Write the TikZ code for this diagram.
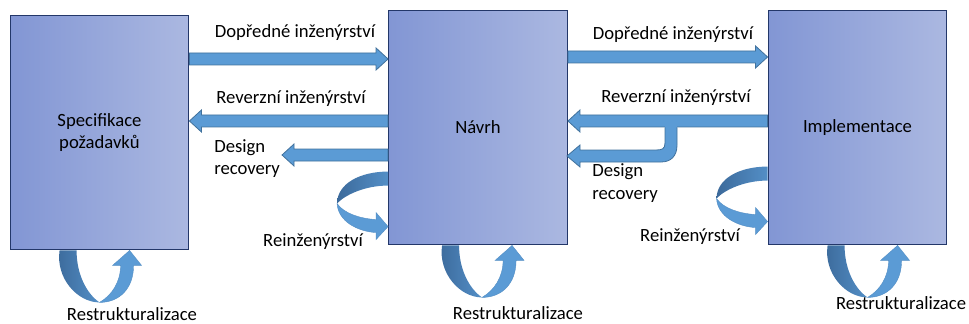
\documentclass[tikz,border=0pt]{standalone}
\usepackage{fontspec}
\setmainfont{Carlito}
\usepackage{tikz}
\usetikzlibrary{calc, positioning}
\definecolor{boxleft}{RGB}{130,150,212}
\definecolor{boxright}{RGB}{171,184,225}
\definecolor{boxedge}{RGB}{35,55,105}
\definecolor{arrowfill}{RGB}{91,155,213}
\definecolor{arrowedge}{RGB}{65,113,156}
\definecolor{banddark}{RGB}{60,106,155}
\tikzstyle{phase} = [rectangle, minimum width=134pt, minimum height=176pt, align=center, draw=boxedge, line width=0.9pt, left color=boxleft, right color=boxright, font=\fontsize{14}{17}\selectfont]
\tikzstyle{lbl} = [inner sep=0pt, font=\fontsize{14}{17}\selectfont]
\tikzstyle{blockr} = [fill=arrowfill, draw=arrowedge, line width=0.6pt,
  to path={($(\tikztostart)+(0,-6)$) -- ($(\tikztotarget)+(-12,-6)$) -- ($(\tikztotarget)+(-12,-11)$) -- (\tikztotarget) -- ($(\tikztotarget)+(-12,11)$) -- ($(\tikztotarget)+(-12,6)$) -- ($(\tikztostart)+(0,6)$) -- cycle}]
\tikzstyle{blockl} = [fill=arrowfill, draw=arrowedge, line width=0.6pt,
  to path={($(\tikztostart)+(0,-6)$) -- ($(\tikztotarget)+(12,-6)$) -- ($(\tikztotarget)+(12,-11)$) -- (\tikztotarget) -- ($(\tikztotarget)+(12,11)$) -- ($(\tikztotarget)+(12,6)$) -- ($(\tikztostart)+(0,6)$) -- cycle}]
\tikzstyle{darkband} = [left color=banddark, right color=arrowfill!75!banddark]
\tikzstyle{lightband} = [fill=arrowfill, draw=arrowfill!70!arrowedge, line width=0.3pt]
\tikzset{
  pics/restr/.style={code={
    \path[darkband] (0,0) .. controls (-4,28) and (18,52) .. (40,52) .. controls (28,44) and (17,25) .. (17,0) -- cycle;
    \path[lightband] (40,52) .. controls (60,52) and (74,38) .. (74,15) -- (82,15) -- (70,0) -- (53,15) -- (61,15) .. controls (61,32) and (52,45) .. (40,52) -- cycle;
  }},
  pics/reinz/.style={code={
    \path[darkband] (0,0) .. controls (-28,0) and (-51,12) .. (-51,32) .. controls (-44,24) and (-24,14) .. (0,14) -- cycle;
    \path[lightband] (-51,32) .. controls (-50,50) and (-30,60) .. (-12,61) -- (-12,68) -- (0,55) -- (-12,41) -- (-12,48) .. controls (-28,47) and (-44,42) .. (-51,32) -- cycle;
  }}
}

\begin{document}
\begin{tikzpicture}[x=0.75pt, y=-0.75pt]
    \useasboundingbox (0,0) rectangle (969,324);

    \node (spec) [phase] at (99.5,132.5) {Specifikace\\požadavků};
    \node (navrh) [phase] at (478,127.5) {Návrh};
    \node (impl) [phase] at (857.5,127.5) {Implementace};

    \coordinate (rowA) at (0,59);
    \coordinate (rowB) at (0,121);
    \coordinate (rowC) at (0,155);
    \coordinate (rowD) at (0,57);

    % left side
    \draw [blockr] (spec.east |- rowA) to (navrh.west |- rowA);
    \draw [blockl] (navrh.west |- rowB) to (spec.east |- rowB);
    \coordinate (drend) at (282,155);
    \draw [blockl] (navrh.west |- rowC) to (drend);
    \pic at ($(navrh.north west)+(0,162)$) {reinz};

    % right side
    \draw [blockr] (navrh.east |- rowD) to (impl.west |- rowD);
    \draw [blockl] (impl.west |- rowB) to (navrh.east |- rowB);
    % branch off the reverse arrow
    \coordinate (split) at (671,121);
    \fill [arrowfill] (665,121) -- (665,143) .. controls (665,149) and (662,150) .. (656,150) -- (580,150) -- (580,145) -- (567,156) -- (580,167) -- (580,162) -- (661,162) .. controls (671,162) and (677,156) .. (677,145) -- (677,121) -- cycle;
    \draw [arrowedge, line width=0.6pt] (665,127.3) -- (665,143) .. controls (665,149) and (662,150) .. (656,150) -- (580,150) -- (580,145) -- (567,156) -- (580,167) -- (580,162) -- (661,162) .. controls (671,162) and (677,156) .. (677,145) -- (677,127.3);
    \pic at ($(impl.north west)+(0,157)$) {reinz};

    % loops under the boxes
    \pic at ($(spec.south west)+(50,0)$) {restr};
    \pic at ($(navrh.south west)+(54,0)$) {restr};
    \pic at ($(impl.south west)+(60,0)$) {restr};

    % labels
    \node (fwdl) [lbl] at (295,33) {Dopředné inženýrství};
    \node (revl) [lbl] at (291,99) {Reverzní inženýrství};
    \node (drl) [lbl, align=left, anchor=west] at (214,158.5) {Design\\recovery};
    \node (reil) [lbl] at (313,242) {Reinženýrství};
    \node (fwdr) [lbl] at (673,35) {Dopředné inženýrství};
    \node (revr) [lbl] at (676,98) {Reverzní inženýrství};
    \node (drr) [lbl, align=left, anchor=west] at (592,183) {Design\\recovery};
    \node (reir) [lbl] at (690,237) {Reinženýrství};
    \node (res1) [lbl] at (132,314) {Restrukturalizace};
    \node (res2) [lbl] at (518,313.5) {Restrukturalizace};
    \node (res3) [lbl] at (901,303) {Restrukturalizace};
  \end{tikzpicture}
\end{document}
